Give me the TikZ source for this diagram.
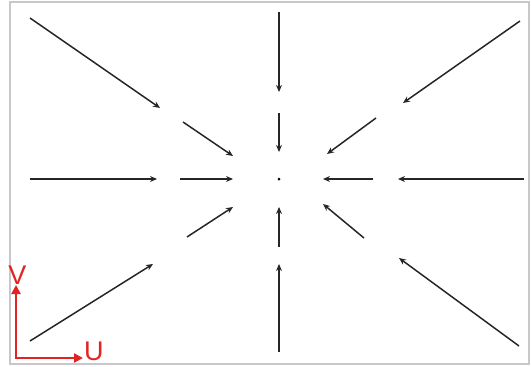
\documentclass[tikz,border=0pt]{standalone}
\usepackage{fontspec}
\setmainfont{Liberation Sans}
\usetikzlibrary{arrows.meta}
\definecolor{axred}{RGB}{225,35,35}
\definecolor{framegray}{RGB}{200,200,200}
\tikzset{
  vec/.style={draw=black!85, line width=1.5pt, -{Stealth[length=7pt,width=6pt]}},
  axis/.style={draw=axred, line width=2.4pt, -{Triangle[length=9pt,width=9pt]}},
  axlabel/.style={text=axred, font=\fontsize{27}{27}\selectfont, inner sep=0pt},
}
\begin{document}
\begin{tikzpicture}[x=1pt,y=-1pt]
\useasboundingbox (0,0) rectangle (531,367);
\draw[framegray, line width=1.2pt] (10,2) rectangle (529,364);
% outer ring
\coordinate (a1) at (30,18);  \coordinate (b1) at (160,108);
\coordinate (a2) at (279,12); \coordinate (b2) at (279,92);
\coordinate (a3) at (520,21); \coordinate (b3) at (403,103);
\coordinate (a4) at (30,179); \coordinate (b4) at (157,179);
\coordinate (a5) at (524,179);\coordinate (b5) at (398,179);
\coordinate (a6) at (30,341); \coordinate (b6) at (153,264);
\coordinate (a7) at (279,352);\coordinate (b7) at (279,264);
\coordinate (a8) at (519,346);\coordinate (b8) at (399,258);
% inner ring
\coordinate (c1) at (183,122); \coordinate (d1) at (233,156);
\coordinate (c2) at (279,113); \coordinate (d2) at (279,152);
\coordinate (c3) at (376,118); \coordinate (d3) at (327,154);
\coordinate (c4) at (180,179); \coordinate (d4) at (233,179);
\coordinate (c5) at (373,179); \coordinate (d5) at (323,179);
\coordinate (c6) at (187,237); \coordinate (d6) at (233,207);
\coordinate (c7) at (279,247); \coordinate (d7) at (279,207);
\coordinate (c8) at (364,238); \coordinate (d8) at (323,204);
\foreach \i in {1,...,8}{
  \draw[vec] (a\i) -- (b\i);
  \draw[vec] (c\i) -- (d\i);
}
\fill[black] (279,179) circle (1.5pt);
% axes
\coordinate (o) at (16,358);
\coordinate (vt) at (16,285);
\coordinate (ut) at (83,358);
\draw[axis] ([yshift=1.2pt]o) -- (vt);
\draw[axis] ([xshift=-1.2pt]o) -- (ut);
\node[axlabel, anchor=north] (V) at (17.5,266) {V};
\node[axlabel, anchor=south west] (U) at (84,361) {U};
\end{tikzpicture}
\end{document}
